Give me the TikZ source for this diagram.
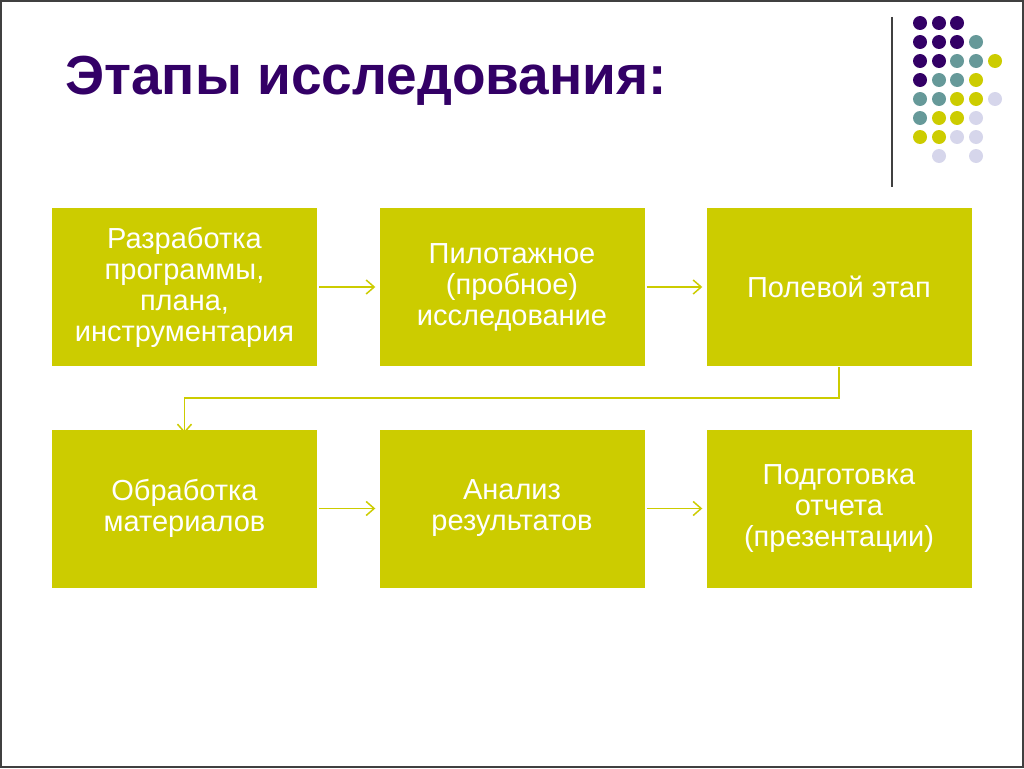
\documentclass[tikz,border=0pt]{standalone}
\usepackage{fontspec}
\setmainfont{Liberation Sans}
\usetikzlibrary{arrows.meta}
\definecolor{boxc}{HTML}{CCCC00}
\definecolor{titlec}{HTML}{330066}
\definecolor{dpur}{HTML}{330066}
\definecolor{dteal}{HTML}{669999}
\definecolor{dyel}{HTML}{CCCC00}
\definecolor{dlav}{HTML}{D6D6EB}
\tikzset{
  stagebox/.style={rectangle, fill=boxc, minimum width=265pt, minimum height=158pt, inner sep=0pt, text=white, align=center, font=\fontsize{29}{31}\selectfont},
  conn/.style={draw=boxc, line width=1.5pt, -{Straight Barb[length=8pt,width=14pt,line width=1.5pt]}},
  dot/.style={circle, minimum size=14pt, inner sep=0pt}
}
\begin{document}
\begin{tikzpicture}[x=1pt,y=-1pt]
\useasboundingbox (0,0) rectangle (1024,768);
\draw[color=black!75, line width=2pt] (1,1) rectangle (1023,767);
\node[anchor=base west, text=titlec, font=\fontsize{55}{60}\selectfont\bfseries, inner sep=0pt] (title) at (65,94) {Этапы исследования:};
\draw[color=black!75, line width=1.5pt] (892,17) -- (892,187);
% dots
\foreach \c/\xx/\yy in {dpur/920/23, dpur/939/23, dpur/957/23,
  dpur/920/42, dpur/939/42, dpur/957/42, dteal/976/42,
  dpur/920/61, dpur/939/61, dteal/957/61, dteal/976/61, dyel/995/61,
  dpur/920/80, dteal/939/80, dteal/957/80, dyel/976/80,
  dteal/920/99, dteal/939/99, dyel/957/99, dyel/976/99, dlav/995/99,
  dteal/920/118, dyel/939/118, dyel/957/118, dlav/976/118,
  dyel/920/137, dyel/939/137, dlav/957/137, dlav/976/137,
  dlav/939/156, dlav/976/156}
  \node[dot, fill=\c] at (\xx,\yy) {};
\node[stagebox] (b1) at (184.5,287) {Разработка\\программы,\\плана,\\инструментария};
\node[stagebox] (b2) at (512,287) {Пилотажное\\(пробное)\\исследование};
\node[stagebox] (b3) at (839,287) {Полевой этап};
\node[stagebox] (b4) at (184.5,508.5) {Обработка\\материалов};
\node[stagebox] (b5) at (512,508.5) {Анализ\\результатов};
\node[stagebox] (b6) at (839,508.5) {Подготовка\\отчета\\(презентации)};
\draw[conn] ([xshift=2pt]b1.east) -- ([xshift=-4pt]b2.west);
\draw[conn] ([xshift=2pt]b2.east) -- ([xshift=-4pt]b3.west);
\draw[conn] ([xshift=2pt]b4.east) -- ([xshift=-4pt]b5.west);
\draw[conn] ([xshift=2pt]b5.east) -- ([xshift=-4pt]b6.west);
\coordinate (turn) at (839,398);
\draw[conn] ([yshift=-1pt]b3.south) -- (turn) -| ([yshift=-4pt]b4.north);
\end{tikzpicture}
\end{document}
